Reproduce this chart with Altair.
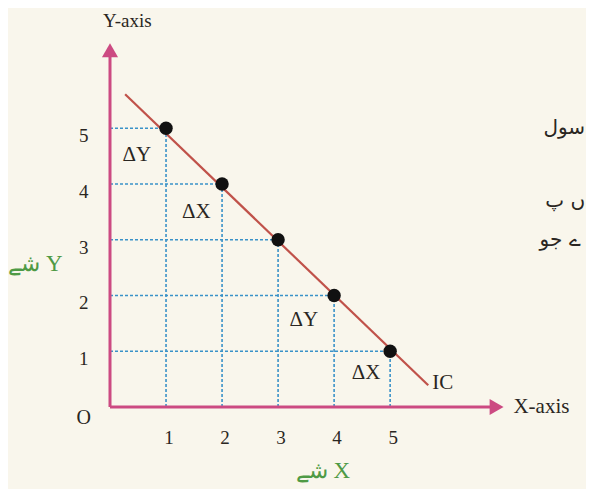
import altair as alt
import pandas as pd

# ---- data ----
x_vals = [1, 2, 3, 4, 5]
y_vals = [5, 4, 3, 2, 1]
ic_x = [0.27, 5.68]
ic_y = [5.61, 0.39]
tick_vals = [1, 2, 3, 4, 5]
tick_labels = ["1", "2", "3", "4", "5"]
delta_labels = ["ΔY", "ΔX", "ΔY", "ΔX"]
delta_x = [0.48, 1.54, 3.46, 4.57]
delta_y = [4.52, 3.49, 1.56, 0.61]
urdu_side = ["سول", "ں پ", "ے جو"]
urdu_side_x = [8.48, 8.48, 8.4]
urdu_side_y = [5.0, 3.7, 3.0]

BG = "#f9f6ec"
AXIS_C = "#cc4a82"
IC_C = "#c0524a"
GRID_C = "#3a92c8"
TXT_C = "#2a2622"
GREEN = "#4f9a45"
SERIF = "Liberation Serif"

xs = alt.Scale(domain=[0, 7.3], nice=False, zero=False)
ys = alt.Scale(domain=[0, 6.6], nice=False, zero=False)

# grid segments (dashed)
seg = []
for xv, yv in zip(x_vals, y_vals):
    seg.append({"x": 0, "x2": xv, "y": yv, "y2": yv})
    seg.append({"x": xv, "x2": xv, "y": 0, "y2": yv})
seg_df = pd.DataFrame(seg)

grid = alt.Chart(seg_df).mark_rule(color=GRID_C, strokeWidth=1.6, strokeDash=[3, 2]).encode(
    x=alt.X("x:Q", scale=xs, axis=None), x2="x2", y=alt.Y("y:Q", scale=ys, axis=None), y2="y2"
)

axes_df = pd.DataFrame({"x": [0, 0], "x2": [6.9, 0], "y": [0, 0], "y2": [0, 6.35]})
axes = alt.Chart(axes_df).mark_rule(color=AXIS_C, strokeWidth=3).encode(
    x="x:Q", x2="x2", y="y:Q", y2="y2"
)

arrow_r = alt.Chart(pd.DataFrame({"x": [6.9], "y": [0]})).mark_point(
    shape="triangle-right", filled=True, color=AXIS_C, size=260, opacity=1
).encode(x="x:Q", y="y:Q")
arrow_u = alt.Chart(pd.DataFrame({"x": [0], "y": [6.4]})).mark_point(
    shape="triangle-up", filled=True, color=AXIS_C, size=260, opacity=1
).encode(x="x:Q", y="y:Q")

ic = alt.Chart(pd.DataFrame({"x": ic_x, "y": ic_y})).mark_line(color=IC_C, strokeWidth=2.2).encode(
    x="x:Q", y="y:Q"
)

pts = alt.Chart(pd.DataFrame({"x": x_vals, "y": y_vals})).mark_circle(
    color="#111111", size=180, opacity=1
).encode(x="x:Q", y="y:Q")

xt = alt.Chart(pd.DataFrame({"x": tick_vals, "y": [-0.55] * 5, "t": tick_labels})).mark_text(
    font=SERIF, fontSize=19, color=TXT_C, dx=3
).encode(x="x:Q", y="y:Q", text="t:N")

yt = alt.Chart(pd.DataFrame({"x": [-0.47] * 5, "y": tick_vals, "t": tick_labels})).mark_text(
    font=SERIF, fontSize=19, color=TXT_C, dy=8
).encode(x="x:Q", y="y:Q", text="t:N")

origin = alt.Chart(pd.DataFrame({"x": [-0.47], "y": [-0.2], "t": ["O"]})).mark_text(
    font=SERIF, fontSize=20, color=TXT_C
).encode(x="x:Q", y="y:Q", text="t:N")

deltas = alt.Chart(pd.DataFrame({"x": delta_x, "y": delta_y, "t": delta_labels})).mark_text(
    font=SERIF, fontSize=21, color=TXT_C
).encode(x="x:Q", y="y:Q", text="t:N")

ic_lab = alt.Chart(pd.DataFrame({"x": [5.75], "y": [0.43], "t": ["IC"]})).mark_text(
    font=SERIF, fontSize=21, color=TXT_C, align="left"
).encode(x="x:Q", y="y:Q", text="t:N")

ylab_top = alt.Chart(pd.DataFrame({"x": [0.31], "y": [6.93], "t": ["Y-axis"]})).mark_text(
    font=SERIF, fontSize=19, color=TXT_C
).encode(x="x:Q", y="y:Q", text="t:N")
xlab_right = alt.Chart(pd.DataFrame({"x": [7.2], "y": [0.0], "t": ["X-axis"]})).mark_text(
    font=SERIF, fontSize=21, color=TXT_C, align="left"
).encode(x="x:Q", y="y:Q", text="t:N")

green = alt.Chart(pd.DataFrame({
    "x": [-1.33, 3.8], "y": [2.57, -1.15], "t": ["شے Y", "شے X"]
})).mark_text(font=SERIF, fontSize=23, color=GREEN).encode(x="x:Q", y="y:Q", text="t:N")

side = alt.Chart(pd.DataFrame({"x": urdu_side_x, "y": urdu_side_y, "t": urdu_side})).mark_text(
    font="DejaVu Sans", fontSize=20, color=TXT_C, align="right"
).encode(x="x:Q", y="y:Q", text="t:N")

chart = alt.layer(
    grid, axes, arrow_r, arrow_u, ic, pts, xt, yt, origin, deltas, ic_lab,
    ylab_top, xlab_right, green, side
).properties(
    width=409, height=368,
    autosize=alt.AutoSizeParams(type="none"),
    padding={"left": 102, "top": 31, "right": 67, "bottom": 82},
    background=BG,
).configure_view(stroke=None)

chart.save("out.html", embed_options={"renderer": "svg", "actions": False})
